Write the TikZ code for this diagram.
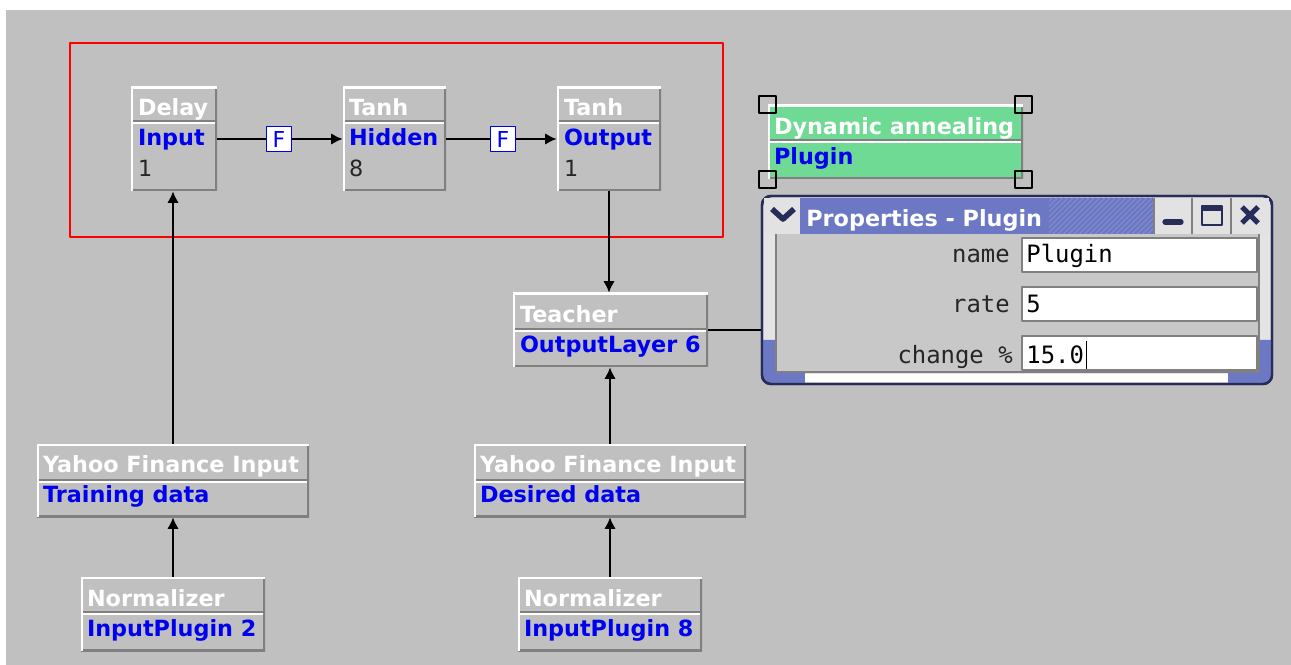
\documentclass[tikz,border=0pt]{standalone}
\usepackage{fontspec}
\setmainfont{DejaVu Sans}
\newfontfamily\monofont{DejaVu Sans Mono}
\usepackage{tikz}
\usetikzlibrary{arrows.meta,calc,fit,patterns}
\definecolor{canvas}{RGB}{192,192,192}
\definecolor{edgedark}{RGB}{128,128,128}
\definecolor{textblue}{RGB}{0,0,240}
\definecolor{anneal}{RGB}{110,218,148}
\definecolor{winblue}{RGB}{108,120,196}
\definecolor{navy}{RGB}{40,44,88}
\definecolor{panel}{RGB}{200,200,200}
\definecolor{frame}{RGB}{228,228,228}
\definecolor{btn}{RGB}{226,226,226}
\tikzset{blk/.style={fill=canvas,inner sep=0pt,path picture={
    \draw[edgedark,line width=2.4pt] (path picture bounding box.north east) |- (path picture bounding box.south west);
    \draw[white,line width=2.4pt] (path picture bounding box.south west) |- (path picture bounding box.north east);}}}
\tikzset{ttl/.style={anchor=base west,inner sep=0pt,text=white,font=\bfseries\fontsize{12.7}{15}\selectfont},
  sub/.style={ttl,text=textblue},
  num/.style={anchor=base west,inner sep=0pt,text=black!85,font=\fontsize{12.7}{15}\selectfont}}
\tikzset{wire/.style={line width=1.1pt},arr/.style={wire,-{Latex[length=6.5pt,width=6.5pt]}},
  fbox/.style={draw=textblue,fill=white,line width=1.1pt,minimum size=0.5cm,inner sep=0pt,text=textblue,font=\fontsize{12.5}{14}\selectfont},
  handle/.style={draw=black,line width=1.1pt,minimum size=0.34cm,inner sep=0pt},
  field/.style={draw=edgedark,fill=white,line width=1pt,inner sep=0pt},
  lbl/.style={anchor=base east,inner sep=0pt,text=black!85,font=\monofont\fontsize{13.6}{15}\selectfont},
  val/.style={anchor=base west,inner sep=0pt,text=black,font=\monofont\fontsize{13.6}{15}\selectfont}}

\begin{document}
\begin{tikzpicture}[x=0.02cm,y=-0.02cm,line join=round]
\useasboundingbox (0,0) rectangle (1291,665);
\fill[white] (0,0) rectangle (1291,665);
\fill[canvas] (6,10) rectangle (1291,665);
% --- network inside the red frame
\draw[red,line width=1.1pt] (70,43) rectangle (723,237);
\node[blk,fit={(131,87)(217,191)}] (delay) {};
\node[blk,fit={(343,87)(446,191)}] (hidden) {};
\node[blk,fit={(557,87)(661,191)}] (output) {};
\node[blk,fit={(513,293)(708,367)}] (teacher) {};
\node[blk,fit={(37,444)(309,517)}] (yahooTr) {};
\node[blk,fit={(474,444)(746,517)}] (yahooDs) {};
\node[blk,fit={(81,577)(265,651)}] (normTr) {};
\node[blk,fit={(518,577)(702,651)}] (normDs) {};
\node[blk,fill=anneal,fit={(768,105)(1023,179)}] (anneal) {};
\foreach \xa/\xb/\yy in {131/217/122,343/446/122,557/661/122,513/708/330,37/309/481,474/746/481,81/265/613,518/702/613,768/1023/141} {
  \draw[edgedark,line width=1pt] (\xa+2,\yy-1) -- (\xb-2,\yy-1);
  \draw[white,line width=1pt] (\xa+2,\yy+1) -- (\xb-2,\yy+1);
}
\node[ttl] (delayT) at ($(delay.north west)+(7,29)$) {Delay};
\node[sub] (delayS) at ($(delay.north west)+(7,59)$) {Input};
\node[num] (delayN) at ($(delay.north west)+(7,90)$) {1};
\node[ttl] (hiddenT) at ($(hidden.north west)+(6,29)$) {Tanh};
\node[sub] (hiddenS) at ($(hidden.north west)+(6,59)$) {Hidden};
\node[num] (hiddenN) at ($(hidden.north west)+(6,90)$) {8};
\node[ttl] (outputT) at ($(output.north west)+(7,29)$) {Tanh};
\node[sub] (outputS) at ($(output.north west)+(7,59)$) {Output};
\node[num] (outputN) at ($(output.north west)+(7,90)$) {1};
\node[ttl] (teacherT) at ($(teacher.north west)+(7,30)$) {Teacher};
\node[sub] (teacherS) at ($(teacher.north west)+(7,60)$) {OutputLayer 6};
\node[ttl] (yahooTrT) at ($(yahooTr.north west)+(6,29)$) {Yahoo Finance Input};
\node[sub] (yahooTrS) at ($(yahooTr.north west)+(6,59)$) {Training data};
\node[ttl] (yahooDsT) at ($(yahooDs.north west)+(6,29)$) {Yahoo Finance Input};
\node[sub] (yahooDsS) at ($(yahooDs.north west)+(6,59)$) {Desired data};
\node[ttl] (normTrT) at ($(normTr.north west)+(6,30)$) {Normalizer};
\node[sub] (normTrS) at ($(normTr.north west)+(6,60)$) {InputPlugin 2};
\node[ttl] (normDsT) at ($(normDs.north west)+(6,30)$) {Normalizer};
\node[sub] (normDsS) at ($(normDs.north west)+(6,60)$) {InputPlugin 8};
\node[ttl] (annealT) at ($(anneal.north west)+(6,30)$) {Dynamic annealing};
\node[sub] (annealS) at ($(anneal.north west)+(6,60)$) {Plugin};
\foreach \c in {north west,north east,south west,south east} \node[handle] at (anneal.\c) {};
% --- synapses and links
\node[fbox] (f1) at (279,139) {F};
\node[fbox] (f2) at (503,139) {F};
\draw[wire] (delay.east) -- (f1);
\draw[arr] (f1) -- (hidden.west);
\draw[wire] (hidden.east) -- (f2);
\draw[arr] (f2) -- (output.west);
\draw[arr] (output.south) -- (output.south |- teacher.north);
\draw[arr] (yahooTr.north) -- (yahooTr.north |- delay.south);
\draw[arr] (normTr.north) -- (normTr.north |- yahooTr.south);
\draw[arr] (yahooDs.north) -- (yahooDs.north |- teacher.south);
\draw[arr] (normDs.north) -- (normDs.north |- yahooDs.south);
\coordinate (winL) at (762,330);
\draw[line width=0.9pt] (teacher.east) -- (winL);
% --- properties window
\draw[navy,fill=frame,line width=1.4pt,rounded corners=0.18cm] (762,196) rectangle (1272,384);
\begin{scope}
\clip[rounded corners=0.18cm] (762,196) rectangle (1272,384);
\fill[winblue] (762,340) rectangle (776,384) (762,372) rectangle (805,384);
\fill[winblue] (1259,340) rectangle (1272,384) (1228,372) rectangle (1272,384);
\fill[white] (805,374) rectangle (1228,382);
\end{scope}
\draw[navy,line width=1.4pt,rounded corners=0.18cm] (762,196) rectangle (1272,384);
\fill[panel] (776,234) rectangle (1259,372);
\draw[edgedark,line width=0.6pt] (776,234) -- (776,372) (1259,234) -- (1259,372) (776,372) -- (1259,372);
\fill[winblue] (800,198) rectangle (1154,234);
\fill[pattern=north east lines,pattern color=white!20!winblue] (1049,198) rectangle (1154,234);
\fill[btn] (764,198) rectangle (800,234);
\draw[navy,line width=3.2pt] (772,209) -- (783,219) -- (794,209);
\node[ttl] (winT) at (806,227) {Properties - Plugin};
\foreach \xa in {1154,1192,1231} {
  \fill[btn] (\xa,198) rectangle (\xa+38,234);
  \draw[edgedark,line width=0.6pt] (\xa,198) -- (\xa,234);
}
\draw[navy,line width=3pt,line cap=round] (1165,222) -- (1181,222);
\draw[navy,line width=1.5pt] (1202,206) rectangle (1222,225);
\fill[navy] (1202,206) rectangle (1222,211);
\draw[navy,line width=3pt] (1242,207) -- (1258,223) (1242,223) -- (1258,207);
\node[field,fit={(1022,238)(1257,272)}] (fName) {};
\node[field,fit={(1022,287)(1257,321)}] (fRate) {};
\node[field,fit={(1022,336)(1257,370)}] (fChange) {};
\node[lbl] (lName) at (1010,263) {name};
\node[lbl] (lRate) at (1010,313) {rate};
\node[lbl] (lChange) at (1013,363) {change \%};
\node[val] (vName) at (1026,263) {Plugin};
\node[val] (vRate) at (1026,313) {5};
\node[val] (vChange) at (1026,363) {15.0};
\draw[line width=0.8pt] ($(vChange.base east)+(2,6)$) -- ($(vChange.base east)+(2,-22)$);
\end{tikzpicture}
\end{document}
